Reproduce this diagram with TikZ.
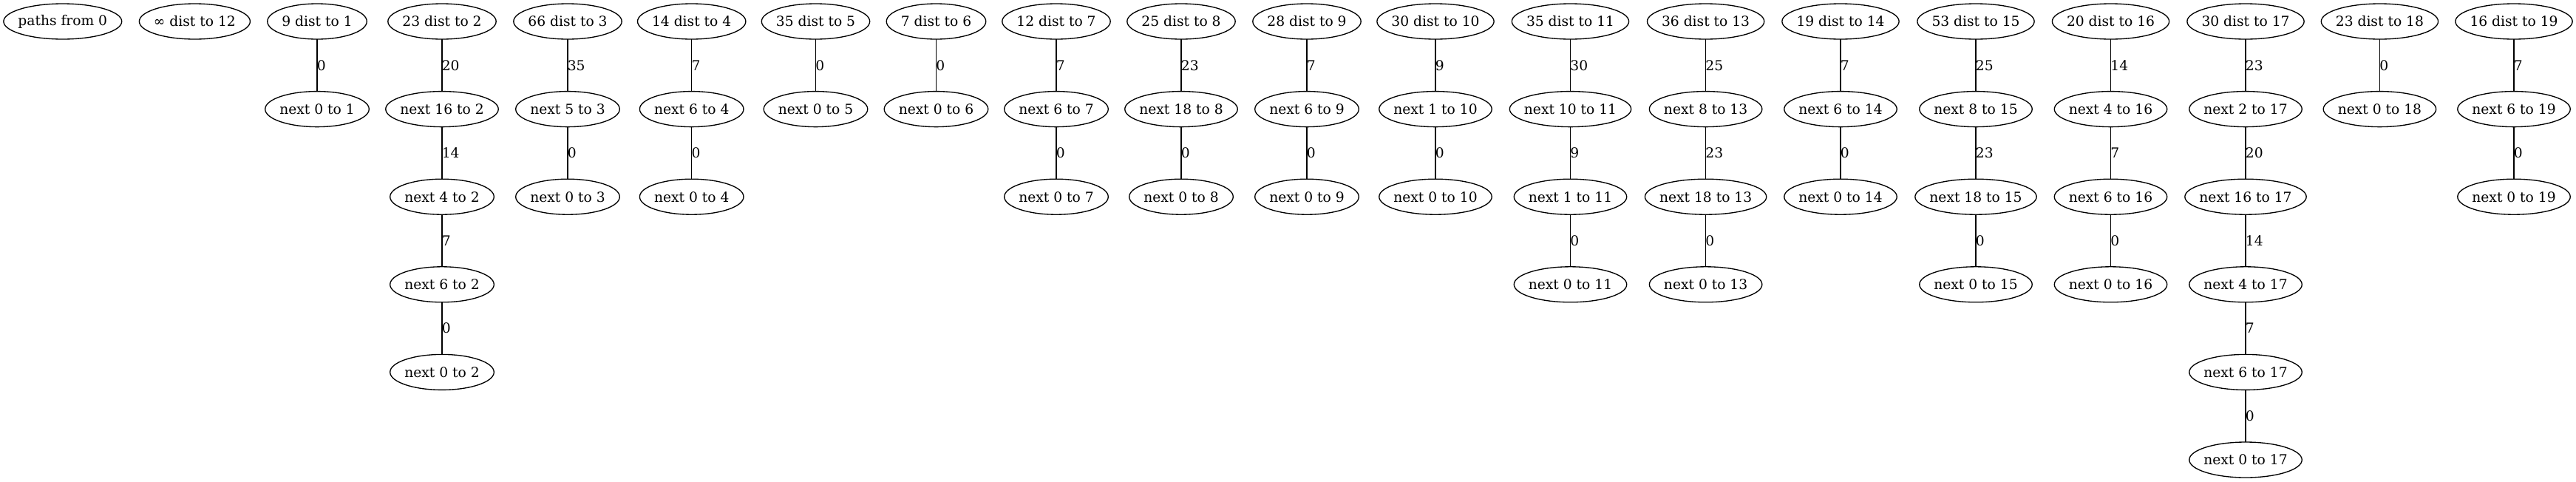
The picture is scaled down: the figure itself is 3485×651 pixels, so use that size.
\documentclass[tikz,border=0pt]{standalone}
\usepackage{fontspec}
\setmainfont{DejaVu Serif}
\usetikzlibrary{calc}
\tikzset{
  gvbox/.style={rectangle, inner xsep=14.5pt, inner ysep=0pt, minimum height=36pt, font=\fontsize{14pt}{16pt}\selectfont},
  gvline/.style={draw=black, line width=1pt},
  elabel/.style={anchor=west, inner sep=0pt, xshift=-0.6pt, font=\fontsize{14pt}{16pt}\selectfont}
}
\newcommand\gvn[4]{\node[gvbox] (#1) at (#2,#3) {#4};
  \draw[gvline] let \p1=($(#1.east)-(#1.west)$) in (#1.center) ellipse [x radius={0.5*\x1}, y radius=18pt];}
\newcommand\gve[3]{\draw[gvline] (#1) -- node[elabel]{#3} (#2);}
\begin{document}
\begin{tikzpicture}[x=0.75pt,y=-0.75pt]
\useasboundingbox (0,0) rectangle (3485,651);
\def\ra{29}\def\rb{147.6}\def\rc{266.2}\def\rd{384.8}\def\re{503.4}\def\rf{622}
% column 0,1
\gvn{p0}{84.8}{\ra}{paths from 0}
\gvn{d12}{263.4}{\ra}{∞ dist to 12}
% column 2
\gvn{d1}{429}{\ra}{9 dist to 1}
\gvn{n1a}{429}{\rb}{next 0 to 1}
\gve{d1}{n1a}{0}
% column 3
\gvn{d2}{598}{\ra}{23 dist to 2}
\gvn{n2a}{598}{\rb}{next 16 to 2}
\gvn{n2b}{598}{\rc}{next 4 to 2}
\gvn{n2c}{598}{\rd}{next 6 to 2}
\gvn{n2d}{598}{\re}{next 0 to 2}
\gve{d2}{n2a}{20}\gve{n2a}{n2b}{14}\gve{n2b}{n2c}{7}\gve{n2c}{n2d}{0}
% column 4
\gvn{d3}{768}{\ra}{66 dist to 3}
\gvn{n3a}{768}{\rb}{next 5 to 3}
\gvn{n3b}{768}{\rc}{next 0 to 3}
\gve{d3}{n3a}{35}\gve{n3a}{n3b}{0}
% column 5
\gvn{d4}{935.7}{\ra}{14 dist to 4}
\gvn{n4a}{935.7}{\rb}{next 6 to 4}
\gvn{n4b}{935.7}{\rc}{next 0 to 4}
\gve{d4}{n4a}{7}\gve{n4a}{n4b}{0}
% column 6
\gvn{d5}{1103.5}{\ra}{35 dist to 5}
\gvn{n5a}{1103.5}{\rb}{next 0 to 5}
\gve{d5}{n5a}{0}
% column 7
\gvn{d6}{1266.5}{\ra}{7 dist to 6}
\gvn{n6a}{1266.5}{\rb}{next 0 to 6}
\gve{d6}{n6a}{0}
% column 8
\gvn{d7}{1429}{\ra}{12 dist to 7}
\gvn{n7a}{1429}{\rb}{next 6 to 7}
\gvn{n7b}{1429}{\rc}{next 0 to 7}
\gve{d7}{n7a}{7}\gve{n7a}{n7b}{0}
% column 9
\gvn{d8}{1598}{\ra}{25 dist to 8}
\gvn{n8a}{1598}{\rb}{next 18 to 8}
\gvn{n8b}{1598}{\rc}{next 0 to 8}
\gve{d8}{n8a}{23}\gve{n8a}{n8b}{0}
% column 10
\gvn{d9}{1768}{\ra}{28 dist to 9}
\gvn{n9a}{1768}{\rb}{next 6 to 9}
\gvn{n9b}{1768}{\rc}{next 0 to 9}
\gve{d9}{n9a}{7}\gve{n9a}{n9b}{0}
% column 11
\gvn{d10}{1942}{\ra}{30 dist to 10}
\gvn{n10a}{1942}{\rb}{next 1 to 10}
\gvn{n10b}{1942}{\rc}{next 0 to 10}
\gve{d10}{n10a}{9}\gve{n10a}{n10b}{0}
% column 12
\gvn{d11}{2124.5}{\ra}{35 dist to 11}
\gvn{n11a}{2124.5}{\rb}{next 10 to 11}
\gvn{n11b}{2124.5}{\rc}{next 1 to 11}
\gvn{n11c}{2124.5}{\rd}{next 0 to 11}
\gve{d11}{n11a}{30}\gve{n11a}{n11b}{9}\gve{n11b}{n11c}{0}
% column 13
\gvn{d13}{2307.6}{\ra}{36 dist to 13}
\gvn{n13a}{2307.6}{\rb}{next 8 to 13}
\gvn{n13b}{2307.6}{\rc}{next 18 to 13}
\gvn{n13c}{2307.6}{\rd}{next 0 to 13}
\gve{d13}{n13a}{25}\gve{n13a}{n13b}{23}\gve{n13b}{n13c}{0}
% column 14
\gvn{d14}{2490}{\ra}{19 dist to 14}
\gvn{n14a}{2490}{\rb}{next 6 to 14}
\gvn{n14b}{2490}{\rc}{next 0 to 14}
\gve{d14}{n14a}{7}\gve{n14a}{n14b}{0}
% column 15
\gvn{d15}{2673}{\ra}{53 dist to 15}
\gvn{n15a}{2673}{\rb}{next 8 to 15}
\gvn{n15b}{2673}{\rc}{next 18 to 15}
\gvn{n15c}{2673}{\rd}{next 0 to 15}
\gve{d15}{n15a}{25}\gve{n15a}{n15b}{23}\gve{n15b}{n15c}{0}
% column 16
\gvn{d16}{2855.5}{\ra}{20 dist to 16}
\gvn{n16a}{2855.5}{\rb}{next 4 to 16}
\gvn{n16b}{2855.5}{\rc}{next 6 to 16}
\gvn{n16c}{2855.5}{\rd}{next 0 to 16}
\gve{d16}{n16a}{14}\gve{n16a}{n16b}{7}\gve{n16b}{n16c}{0}
% column 17
\gvn{d17}{3038}{\ra}{30 dist to 17}
\gvn{n17a}{3038}{\rb}{next 2 to 17}
\gvn{n17b}{3038}{\rc}{next 16 to 17}
\gvn{n17c}{3038}{\rd}{next 4 to 17}
\gvn{n17d}{3038}{\re}{next 6 to 17}
\gvn{n17e}{3038}{\rf}{next 0 to 17}
\gve{d17}{n17a}{23}\gve{n17a}{n17b}{20}\gve{n17b}{n17c}{14}\gve{n17c}{n17d}{7}\gve{n17d}{n17e}{0}
% column 18
\gvn{d18}{3219.4}{\ra}{23 dist to 18}
\gvn{n18a}{3219.4}{\rb}{next 0 to 18}
\gve{d18}{n18a}{0}
% column 19
\gvn{d19}{3401}{\ra}{16 dist to 19}
\gvn{n19a}{3401}{\rb}{next 6 to 19}
\gvn{n19b}{3401}{\rc}{next 0 to 19}
\gve{d19}{n19a}{7}\gve{n19a}{n19b}{0}
\end{tikzpicture}
\end{document}
